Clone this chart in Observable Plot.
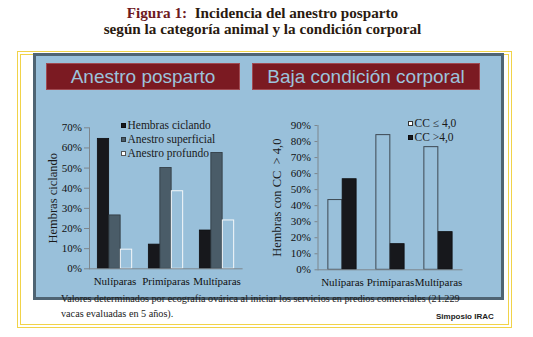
<!DOCTYPE html>
<html>
<head>
<meta charset="utf-8">
<script src="https://cdn.jsdelivr.net/npm/d3@7"></script>
<script src="https://cdn.jsdelivr.net/npm/@observablehq/plot@0.6"></script>
<style>
  html, body { margin: 0; padding: 0; background: #fff; }
  #page { position: relative; width: 533px; height: 337px; overflow: hidden; background: #fff; }
  .abs { position: absolute; }
  #title { left: 0; top: 5px; width: 525px; text-align: center; font-family: "Liberation Serif", serif; font-weight: bold; font-size: 15.2px; line-height: 16px; color: #2a1a10; }
  #title .fig { color: #6e1a1f; }
  #yellow { left: 17px; top: 51px; width: 487px; height: 269px; border: 4px double #f1d349; }
  #panel { left: 33px; top: 53px; width: 465px; height: 241px; border: 3.5px solid #4f6473; background: #99c0da; }
  .hdr { top: 63px; height: 25px; background: #7b1a22; border: 1px solid #a04a52; color: #9cc3dc; font-family: "Liberation Sans", Arial, sans-serif; font-size: 19px; line-height: 25px; text-align: center; }
  .legend { font-family: "Liberation Serif", serif; font-size: 11.5px; color: #1a1a1a; line-height: 14px; }
  .legend .row { display: flex; align-items: center; height: 14px; }
  .legend .sw { width: 5px; height: 5px; margin-right: 1.5px; box-sizing: border-box; }
  #caption { left: 61px; top: 291px; font-family: "Liberation Serif", serif; font-size: 10.2px; line-height: 15px; color: #1a1a1a; white-space: nowrap; }
  #irac { left: 436px; top: 312px; font-family: "Liberation Sans", Arial, sans-serif; font-weight: bold; font-size: 8px; color: #222; }
</style>
</head>
<body>
<div id="page">
  <div id="title" class="abs"><span class="fig">Figura 1:</span>&nbsp; Incidencia del anestro posparto<br>según la categoría animal y la condición corporal</div>
  <div id="yellow" class="abs"></div>
  <div id="panel" class="abs"></div>
  <div class="abs hdr" style="left:46px; width:192px;">Anestro posparto</div>
  <div class="abs hdr" style="left:252px; width:226px;">Baja condición corporal</div>
  <div id="left" class="abs" style="left:37px; top:95px;"></div>
  <div id="right" class="abs" style="left:255px; top:95px;"></div>
  <div id="legL" class="abs legend" style="left:121px; top:118px;"></div>
  <div id="legR" class="abs legend" style="left:408px; top:116px;"></div>
  <div id="caption" class="abs">Valores determinados por ecografía ovárica al iniciar los servicios en predios comerciales (21.229<br>vacas evaluadas en 5 años).</div>
  <div id="irac" class="abs">Simposio IRAC</div>
</div>
<script>
// ---- data ----
const categories = ["Nulíparas", "Primíparas", "Multíparas"];

const leftSeriesNames = ["Hembras ciclando", "Anestro superficial", "Anestro profundo"];
const hembrasCiclando   = [64.5, 12, 19];
const anestroSuperficial = [26.5, 50, 57.5];
const anestroProfundo    = [9.5, 38.5, 24];
const leftTicks = [0, 10, 20, 30, 40, 50, 60, 70];
const leftYLabel = "Hembras ciclando";

const rightSeriesNames = ["CC ≤ 4,0", "CC >4,0"];
const ccMenorIgual4 = [43.5, 84, 76.5];
const ccMayor4      = [56.5, 16, 23.5];
const rightTicks = [0, 10, 20, 30, 40, 50, 60, 70, 80, 90];
const rightYLabel = "Hembras con CC  > 4,0";

// ---- styles ----
const BLACK = "#17181c";
const SLATE = "#4a5c68";
const BG = "#99c0da";
const pct = d => d + "%";

function grouped(seriesList, styles, bandWidth, barWidth) {
  const n = seriesList.length;
  const pad = (bandWidth - n * barWidth) / 2;
  return seriesList.map((vals, i) => {
    const insetLeft = pad + i * barWidth;
    const insetRight = bandWidth - insetLeft - barWidth;
    return Plot.barY(vals, {x: categories, y: d => d, insetLeft, insetRight, ...styles[i]});
  });
}

function chart({width, height, marginLeft, marginRight, marginTop, marginBottom, ticks, series, styles, barWidth, yLabel, labelDx, tickSize, tickPadding}) {
  const bandWidth = (width - marginLeft - marginRight) / categories.length;
  return Plot.plot({
    width, height, marginLeft, marginRight, marginTop, marginBottom,
    style: {background: "transparent", fontFamily: "Liberation Serif, serif", fontSize: "11px", color: "#1a1a1a", overflow: "visible"},
    x: {domain: categories, padding: 0},
    y: {domain: [0, ticks[ticks.length - 1]]},
    marks: [
      ...grouped(series, styles, bandWidth, barWidth),
      Plot.axisY({ticks, tickFormat: pct, tickSize, tickPadding, stroke: "#7d868d", fill: "#111", label: null}),
      Plot.axisX({tickSize: 0, tickPadding: 8, fill: "#111", fontSize: 11, label: null}),
      Plot.frame({anchor: "left", stroke: "#7d868d"}),
      Plot.ruleY([0], {stroke: "#7d868d"}),
      Plot.text([yLabel], {frameAnchor: "left", textAnchor: "middle", lineAnchor: "middle", rotate: -90, dx: labelDx, fontSize: 12.5, fill: "#1a1a1a"})
    ]
  });
}

document.getElementById("left").append(chart({
  width: 210, height: 200, marginLeft: 52, marginRight: 4.4, marginTop: 32.3, marginBottom: 26.7,
  ticks: leftTicks,
  series: [hembrasCiclando, anestroSuperficial, anestroProfundo],
  styles: [
    {fill: BLACK, stroke: "#0d0d10", strokeWidth: 0.8},
    {fill: SLATE, stroke: "#2c353c", strokeWidth: 0.8},
    {fill: BG, stroke: "#f4f7f9", strokeWidth: 1}
  ],
  barWidth: 11.5, yLabel: leftYLabel, labelDx: -37, tickSize: 5, tickPadding: 2.5
}));

document.getElementById("right").append(chart({
  width: 240, height: 200, marginLeft: 62.5, marginRight: 32.5, marginTop: 30, marginBottom: 25.7,
  ticks: rightTicks,
  series: [ccMenorIgual4, ccMayor4],
  styles: [
    {fill: BG, stroke: "#3d4852", strokeWidth: 1},
    {fill: BLACK, stroke: "#0d0d10", strokeWidth: 0.8}
  ],
  barWidth: 14.3, yLabel: rightYLabel, labelDx: -41, tickSize: 3, tickPadding: 4
}));

// legends
function legend(el, names, swatches) {
  names.forEach((name, i) => {
    const row = document.createElement("div");
    row.className = "row";
    const sw = document.createElement("span");
    sw.className = "sw";
    sw.style.background = swatches[i].fill;
    sw.style.border = "0.8px solid " + swatches[i].stroke;
    const t = document.createElement("span");
    t.textContent = name;
    row.append(sw, t);
    el.append(row);
  });
}
legend(document.getElementById("legL"), leftSeriesNames, [
  {fill: BLACK, stroke: "#0d0d10"}, {fill: SLATE, stroke: "#2c353c"}, {fill: "#fff", stroke: "#555"}
]);
legend(document.getElementById("legR"), rightSeriesNames, [
  {fill: "#fff", stroke: "#333"}, {fill: BLACK, stroke: "#0d0d10"}
]);
</script>
</body>
</html>
